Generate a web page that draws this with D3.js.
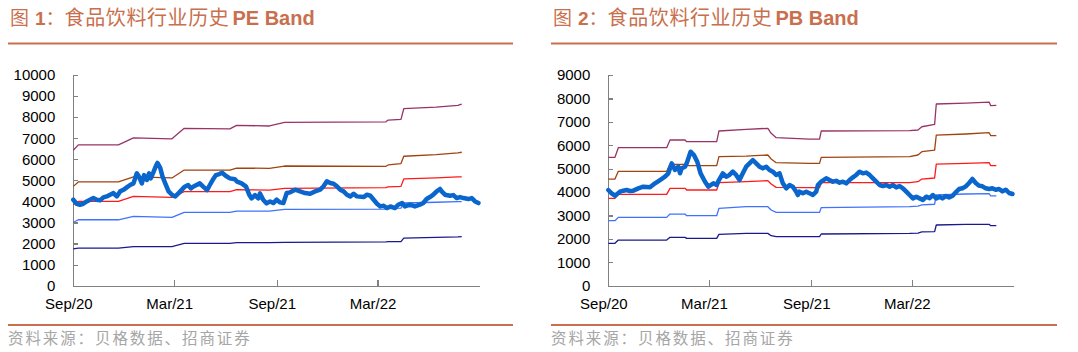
<!DOCTYPE html>
<html><head><meta charset="utf-8">
<script src="https://cdn.jsdelivr.net/npm/d3@7/dist/d3.min.js"></script>
<style>
body{margin:0;background:#fff}
svg{display:block;background:#fff}
.axis text{font-family:"Liberation Sans",Arial,sans-serif;font-size:15px;fill:#000}
.axis path,.axis line{stroke:#808080;stroke-width:1.2px;shape-rendering:crispEdges}
</style>
</head><body>
<svg id="c" width="1078" height="352"></svg>
<script>
// ---------------- DATA ----------------
const titleNum = ["1", "2"];
const titleCn = "食品饮料行业历史";
const titleEn = ["PE Band", "PB Band"];
const sourceText = "资料来源：贝格数据、招商证券";

const xTickDates = ["2020-09-01", "2021-03-01", "2021-09-01", "2022-03-01"];
const xDomain = ["2020-09-01", "2022-08-30"];
const peYTicks = [0, 1000, 2000, 3000, 4000, 5000, 6000, 7000, 8000, 9000, 10000];
const pbYTicks = [0, 1000, 2000, 3000, 4000, 5000, 6000, 7000, 8000, 9000];

// main index series (PE chart)
const peDates = ["2020-09-01","2020-09-07","2020-09-13","2020-09-19","2020-09-25","2020-10-01","2020-10-07","2020-10-13","2020-10-19","2020-10-25","2020-10-31","2020-11-06","2020-11-12","2020-11-18","2020-11-24","2020-11-30","2020-12-06","2020-12-12","2020-12-18","2020-12-24","2020-12-28","2021-01-02","2021-01-06","2021-01-11","2021-01-15","2021-01-18","2021-01-23","2021-01-27","2021-01-30","2021-02-04","2021-02-08","2021-02-13","2021-02-19","2021-02-25","2021-03-03","2021-03-09","2021-03-20","2021-03-26","2021-03-31","2021-04-04","2021-04-10","2021-04-16","2021-04-22","2021-04-29","2021-05-04","2021-05-09","2021-05-15","2021-05-21","2021-05-26","2021-06-02","2021-06-09","2021-06-18","2021-06-22","2021-06-30","2021-07-08","2021-07-14","2021-07-18","2021-07-24","2021-07-30","2021-08-02","2021-08-08","2021-08-14","2021-08-20","2021-08-26","2021-09-01","2021-09-07","2021-09-13","2021-09-19","2021-09-25","2021-10-04","2021-10-13","2021-10-22","2021-10-31","2021-11-09","2021-11-18","2021-11-24","2021-11-30","2021-12-06","2021-12-12","2021-12-18","2021-12-24","2021-12-30","2022-01-05","2022-01-11","2022-01-17","2022-01-23","2022-02-04","2022-02-10","2022-02-16","2022-02-22","2022-02-28","2022-03-06","2022-03-12","2022-03-18","2022-03-24","2022-04-01","2022-04-07","2022-04-14","2022-04-19","2022-04-28","2022-05-07","2022-05-16","2022-05-22","2022-05-28","2022-06-03","2022-06-09","2022-06-15","2022-06-21","2022-06-24","2022-06-30","2022-07-09","2022-07-15","2022-07-21","2022-07-27","2022-08-02","2022-08-11","2022-08-17","2022-08-23","2022-08-29"];
const peValues = [4081,3890,3843,3890,4000,4081,4160,4081,4050,4190,4238,4320,4395,4238,4476,4550,4668,4780,4857,5333,5170,4857,5250,5020,5333,5095,5400,5667,5826,5590,5190,4857,4476,4318,4238,4395,4700,4780,4620,4700,4780,4857,4700,4540,4780,5015,5250,5300,5363,5205,5094,5050,4936,4857,4700,4300,4140,4300,4140,4380,4066,3908,4000,3922,4081,3953,3922,4398,4430,4556,4477,4398,4366,4477,4556,4715,4953,4874,4842,4715,4556,4477,4318,4239,4366,4239,4208,4318,4270,4081,3890,3763,3795,3684,3763,3684,3843,3922,3763,3843,3763,3843,3922,4113,4208,4319,4478,4590,4478,4319,4270,4300,4160,4208,4160,4113,4160,4000,3922];

// PE band lines
const peBandDates = ["2020-09-01","2020-09-10","2020-11-21","2020-12-18","2021-02-25","2021-03-19","2021-06-09","2021-06-21","2021-08-19","2021-09-15","2022-03-16","2022-03-20","2022-04-12","2022-04-17","2022-06-14","2022-07-23","2022-07-30"];
const peBand1 = [6430,6686,6686,7019,6972,7470,7440,7610,7580,7752,7780,7860,7891,8400,8480,8557,8619];
const peBand2 = [4714,4924,4924,5162,5114,5490,5490,5584,5569,5680,5667,5730,5795,6143,6222,6300,6334];
const peBand3 = [3843,4000,4000,4238,4190,4461,4461,4556,4540,4620,4652,4690,4714,5067,5120,5162,5162];
const peBand4 = [3000,3129,3129,3286,3238,3480,3480,3544,3544,3623,3638,3660,3680,3924,3960,3986,3986];
const peBand5 = [1748,1781,1781,1857,1857,2009,2009,2041,2041,2057,2080,2090,2095,2257,2290,2320,2333];

// main index series (PB chart)
const pbDates = ["2020-09-01","2020-09-07","2020-09-13","2020-09-22","2020-09-28","2020-10-04","2020-10-10","2020-10-16","2020-10-25","2020-11-03","2020-11-15","2020-11-24","2020-12-03","2020-12-12","2020-12-18","2020-12-24","2020-12-30","2021-01-05","2021-01-08","2021-01-11","2021-01-17","2021-01-20","2021-01-27","2021-02-02","2021-02-08","2021-02-14","2021-02-22","2021-02-28","2021-03-09","2021-03-15","2021-03-19","2021-03-26","2021-04-01","2021-04-07","2021-04-13","2021-04-19","2021-04-25","2021-05-01","2021-05-07","2021-05-13","2021-05-19","2021-05-25","2021-05-31","2021-06-06","2021-06-12","2021-06-18","2021-06-24","2021-06-30","2021-07-06","2021-07-12","2021-07-18","2021-07-24","2021-07-30","2021-08-05","2021-08-08","2021-08-11","2021-08-17","2021-08-23","2021-08-29","2021-09-04","2021-09-10","2021-09-13","2021-09-19","2021-09-28","2021-10-04","2021-10-10","2021-10-16","2021-10-22","2021-10-28","2021-11-03","2021-11-09","2021-11-15","2021-11-21","2021-11-27","2021-12-03","2021-12-09","2021-12-15","2021-12-21","2021-12-27","2022-01-02","2022-01-08","2022-01-14","2022-01-20","2022-01-26","2022-02-01","2022-02-07","2022-02-13","2022-02-19","2022-02-25","2022-03-03","2022-03-09","2022-03-15","2022-03-21","2022-03-27","2022-04-02","2022-04-08","2022-04-14","2022-04-20","2022-04-25","2022-05-01","2022-05-07","2022-05-13","2022-05-19","2022-05-25","2022-05-31","2022-06-06","2022-06-12","2022-06-18","2022-06-24","2022-06-30","2022-07-06","2022-07-12","2022-07-18","2022-07-24","2022-07-30","2022-08-05","2022-08-11","2022-08-17","2022-08-23","2022-08-29"];
const pbValues = [4087,3946,3845,4016,4059,4087,4045,4060,4158,4230,4202,4373,4514,4657,4800,5226,4942,5084,4800,5013,5084,5226,5724,5582,5297,4800,4443,4230,4373,4301,4514,4800,4656,4730,4870,4730,4514,4800,5084,5226,5368,5226,5084,5012,5084,4942,4870,4730,4800,4372,4158,4300,4230,4016,3873,4016,3945,4016,3945,3873,4016,4300,4443,4585,4514,4443,4480,4400,4443,4372,4514,4628,4730,4870,4800,4830,4730,4585,4443,4300,4258,4300,4230,4300,4200,4258,4160,4016,3873,3731,3800,3731,3660,3803,3740,3874,3730,3800,3730,3830,3770,3830,3987,4130,4160,4245,4387,4558,4387,4273,4245,4160,4130,4160,4100,4130,4030,4100,3960,3916];

// PB band lines
const pbBandDates = ["2020-09-01","2020-09-13","2020-09-19","2020-12-15","2020-12-21","2021-01-17","2021-01-20","2021-03-15","2021-03-19","2021-05-07","2021-06-15","2021-06-21","2021-06-30","2021-08-29","2021-09-16","2021-09-19","2022-02-25","2022-03-12","2022-03-19","2022-04-11","2022-04-14","2022-06-06","2022-07-18","2022-07-21","2022-07-31"];
const pbBand1 = [5484,5484,5894,5894,6223,6223,6150,6150,6607,6680,6722,6509,6321,6265,6265,6607,6620,6650,6790,6893,7761,7800,7845,7690,7700];
const pbBand2 = [4556,4556,4885,4885,5183,5183,5125,5125,5511,5539,5582,5411,5255,5226,5226,5484,5512,5583,5725,5790,6436,6479,6535,6408,6408];
const pbBand3 = [3731,3731,3900,3900,4159,4159,4088,4088,4400,4443,4486,4343,4200,4187,4187,4400,4400,4443,4556,4600,5190,5226,5255,5126,5126];
const pbBand4 = [2776,2776,2920,2920,3061,3061,2990,2990,3304,3375,3375,3233,3133,3133,3133,3332,3375,3400,3450,3480,3880,3916,3930,3840,3840];
const pbBand5 = [1810,1810,1951,1951,2066,2066,2024,2024,2193,2236,2236,2136,2093,2093,2093,2208,2236,2250,2300,2307,2592,2620,2620,2563,2563];

const bandColors = ["#993366", "#a0430f", "#ff1a1a", "#3f72ff", "#1a1a8c"];
const mainColor = "#0a66cc";
const accent = "#c8704e";

// ---------------- DRAW ----------------
const parse = d3.timeParse("%Y-%m-%d");
const svg = d3.select("#c");
const cjk = '"Noto Sans CJK SC",sans-serif';
const latin = '"Liberation Sans",Arial,sans-serif';

function drawPanel(p) {
  const g = svg.append("g");
  // title
  const t = g.append("text").attr("x", p.left + 2).attr("y", 25).attr("fill", accent);
  t.append("tspan").style("font-family", cjk).style("font-size", "19px").text("图");
  t.append("tspan").attr("dx", 6).style("font-family", latin).style("font-weight", "bold")
    .style("font-size", "19px").text(p.num);
  t.append("tspan").style("font-family", cjk).style("font-size", "19px").text("：");
  t.append("tspan").style("font-family", cjk).style("font-size", "20px")
    .style("letter-spacing", "0.6px").text(titleCn);
  t.append("tspan").attr("dx", 3).style("font-family", latin).style("font-weight", "bold")
    .style("font-size", "20px").text(p.titleEn);
  // rules
  g.append("line").attr("x1", p.left).attr("x2", p.right).attr("y1", 43.5).attr("y2", 43.5)
    .attr("stroke", accent).attr("stroke-width", 2);
  g.append("line").attr("x1", p.left).attr("x2", p.right).attr("y1", 325).attr("y2", 325)
    .attr("stroke", accent).attr("stroke-width", 2);
  // source
  g.append("text").attr("x", p.left).attr("y", 344)
    .attr("fill", "#a6a6a6").style("font-size", "15.5px").style("letter-spacing", "1.9px")
    .style("font-family", cjk).text(sourceText);

  const x = d3.scaleTime().domain(xDomain.map(parse)).range([p.x0, p.x1]);
  const y = d3.scaleLinear().domain([0, d3.max(p.yTicks)]).range([285.7, 75]);

  g.append("g").attr("class", "axis").attr("transform", `translate(${p.x0},0)`)
    .call(d3.axisLeft(y).tickValues(p.yTicks).tickSizeInner(-5).tickSizeOuter(0).tickPadding(18).tickFormat(d3.format("d")));
  g.append("g").attr("class", "axis").attr("transform", `translate(0,285.7)`)
    .call(d3.axisBottom(x).tickValues(xTickDates.map(parse)).tickSizeInner(-6).tickSizeOuter(0).tickPadding(13)
      .tickFormat(d3.timeFormat("%b/%y")))
    .selectAll("text").attr("dx", "-5");

  const line = d3.line().x(d => x(d[0])).y(d => y(d[1]));
  const bd = p.bandDates.map(parse);
  p.bands.forEach((vals, i) => {
    g.append("path").datum(vals.map((v, j) => [bd[j], v]))
      .attr("d", line).attr("fill", "none").attr("stroke", bandColors[i])
      .attr("stroke-width", 1.3).attr("stroke-linejoin", "round");
  });
  const md = p.dates.map(parse);
  g.append("path").datum(p.values.map((v, j) => [md[j], v]))
    .attr("d", line).attr("fill", "none").attr("stroke", mainColor)
    .attr("stroke-width", 4.5).attr("stroke-linejoin", "round").attr("stroke-linecap", "round");
}

drawPanel({left: 8, right: 513, x0: 73.3, x1: 479, num: titleNum[0], titleEn: titleEn[0],
  yTicks: peYTicks, dates: peDates, values: peValues, bandDates: peBandDates,
  bands: [peBand1, peBand2, peBand3, peBand4, peBand5]});
drawPanel({left: 551, right: 1057, x0: 608.3, x1: 1013, num: titleNum[1], titleEn: titleEn[1],
  yTicks: pbYTicks, dates: pbDates, values: pbValues, bandDates: pbBandDates,
  bands: [pbBand1, pbBand2, pbBand3, pbBand4, pbBand5]});
</script>
</body></html>
